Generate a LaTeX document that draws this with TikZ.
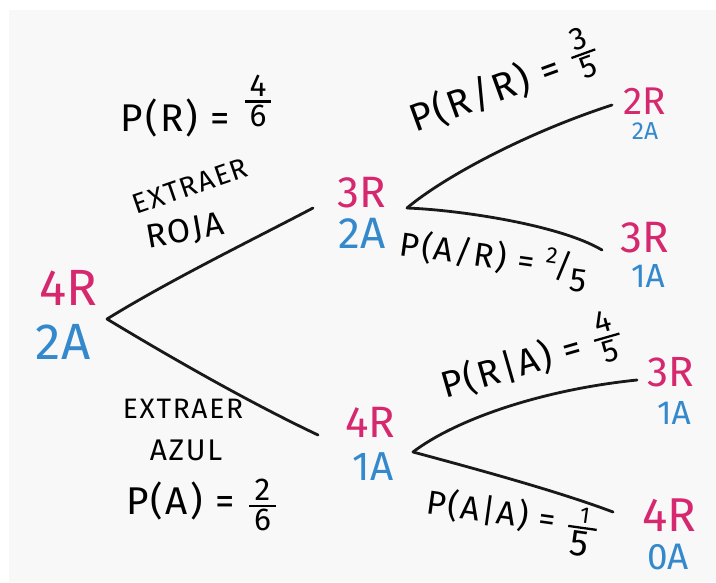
\documentclass[tikz,border=0pt]{standalone}
\usepackage{amsmath}
\usepackage{fontspec}
\setmainfont{Fira Sans}
\newfontfamily\hand[LetterSpace=6]{Fira Sans}
\usepackage{xcolor}
\definecolor{rojo}{RGB}{214,40,110}
\definecolor{azul}{RGB}{52,136,204}
\definecolor{papel}{RGB}{248,248,248}
\usepackage{tikz}

% stacked and slanted fractions in the text font
\newcommand{\fs}[1]{\fontsize{#1}{#1}\selectfont}
\newcommand{\fr}[2]{$\genfrac{}{}{1.3pt}{1}{\text{\fs{18}\kern.15em#1\kern.15em}}{\text{\fs{18}\kern.15em#2\kern.15em}}$}
\newcommand{\sfr}[2]{\raisebox{.4em}{\fs{13}#1}\kern-.05em/\raisebox{-.35em}{#2}}

\begin{document}
\begin{tikzpicture}[x=0.02cm, y=-0.02cm,
    branch/.style={line width=1.6pt, line cap=round, draw=black!90},
    cntR/.style={text=rojo, inner sep=0pt},
    cntA/.style={text=azul, inner sep=0pt},
    lab/.style={inner sep=0pt, font=\hand\fs{22}}]

    \useasboundingbox (0,0) rectangle (716,582);
    \fill[papel] (9,10) rectangle (716,582);

    % === Root: urn before drawing ===
    \node[cntR, font=\fs{29}] (r4R) at (68,288) {4R};
    \node[cntA, font=\fs{29}] (r2A) at (63,342) {2A};
    \coordinate (root) at (107,319);

    % === Middle: after the first draw ===
    \node[cntR, font=\fs{25}] (m3R) at (362,193) {3R};
    \node[cntA, font=\fs{25}] (m2A) at (362,233) {2A};
    \coordinate (m1in)  at (313,208);
    \coordinate (m1out) at (407,208);

    \node[cntR, font=\fs{25}] (n4R) at (370,422) {4R};
    \node[cntA, font=\fs{23}] (n1A) at (373,467) {1A};
    \coordinate (m2in)  at (318,435);
    \coordinate (m2out) at (413,452);

    % === Leaves: after the second draw ===
    \node[cntR, font=\fs{22}] (l1R) at (645,101) {2R};
    \node[cntA, font=\fs{14}] (l1A) at (645,131) {2A};
    \coordinate (l1) at (612,105);

    \node[cntR, font=\fs{25}] (l2R) at (645,238) {3R};
    \node[cntA, font=\fs{19}] (l2A) at (648,276) {1A};
    \coordinate (l2) at (602,250);

    \node[cntR, font=\fs{24}] (l3R) at (671,372) {3R};
    \node[cntA, font=\fs{19}] (l3A) at (674,413) {1A};
    \coordinate (l3) at (637,380);

    \node[cntR, font=\fs{27}] (l4R) at (669,515) {4R};
    \node[cntA, font=\fs{21}] (l4A) at (668,557) {0A};
    \coordinate (l4) at (613,512);

    % === Branches ===
    \draw[branch] (root) .. controls (170,280) and (260,236) .. (m1in);
    \draw[branch] (root) .. controls (155,348) and (240,398) .. (m2in);
    \draw[branch] (m1out) .. controls (440,180) and (520,135) .. (l1);
    \draw[branch] (m1out) .. controls (460,210) and (560,225) .. (l2);
    \draw[branch] (m2out) .. controls (455,420) and (540,390) .. (l3);
    \draw[branch] (m2out) .. controls (480,470) and (560,492) .. (l4);

    % === Labels: first draw ===
    \node[lab] (pR) at (197,106) {P(R) = \raisebox{.55em}{\fr{4}{6}}};
    \node[lab, font=\hand\fs{16}, rotate=19] (exR) at (190,186) {EXTRAER};
    \node[lab, font=\hand\fs{19}, rotate=10] (roja) at (185,232) {ROJA};

    \node[lab, font=\hand\fs{16}] (exA) at (183,409) {EXTRAER};
    \node[lab, font=\hand\fs{17}] (azul) at (186,450) {AZUL};
    \node[lab] (pA) at (202,505) {P(A) = \fr{2}{6}};

    % === Labels: second draw ===
    \node[lab, rotate=20] (pRR) at (503,82) {P(R/R) = \raisebox{.2em}{\fr{3}{5}}};
    \node[lab, font=\hand\fs{19}, rotate=-8] (pAR) at (494,260) {P(A/R) = \sfr{2}{5}};
    \node[lab, font=\hand\fs{21}, rotate=16] (pRA) at (531,358) {P(R|A) = \raisebox{.15em}{\fr{4}{5}}};
    \node[lab, font=\hand\fs{19}, rotate=-8] (pAA) at (512,522) {P(A|A) = \fr{\fs{13}1}{\fs{21}5}};

\end{tikzpicture}
\end{document}
